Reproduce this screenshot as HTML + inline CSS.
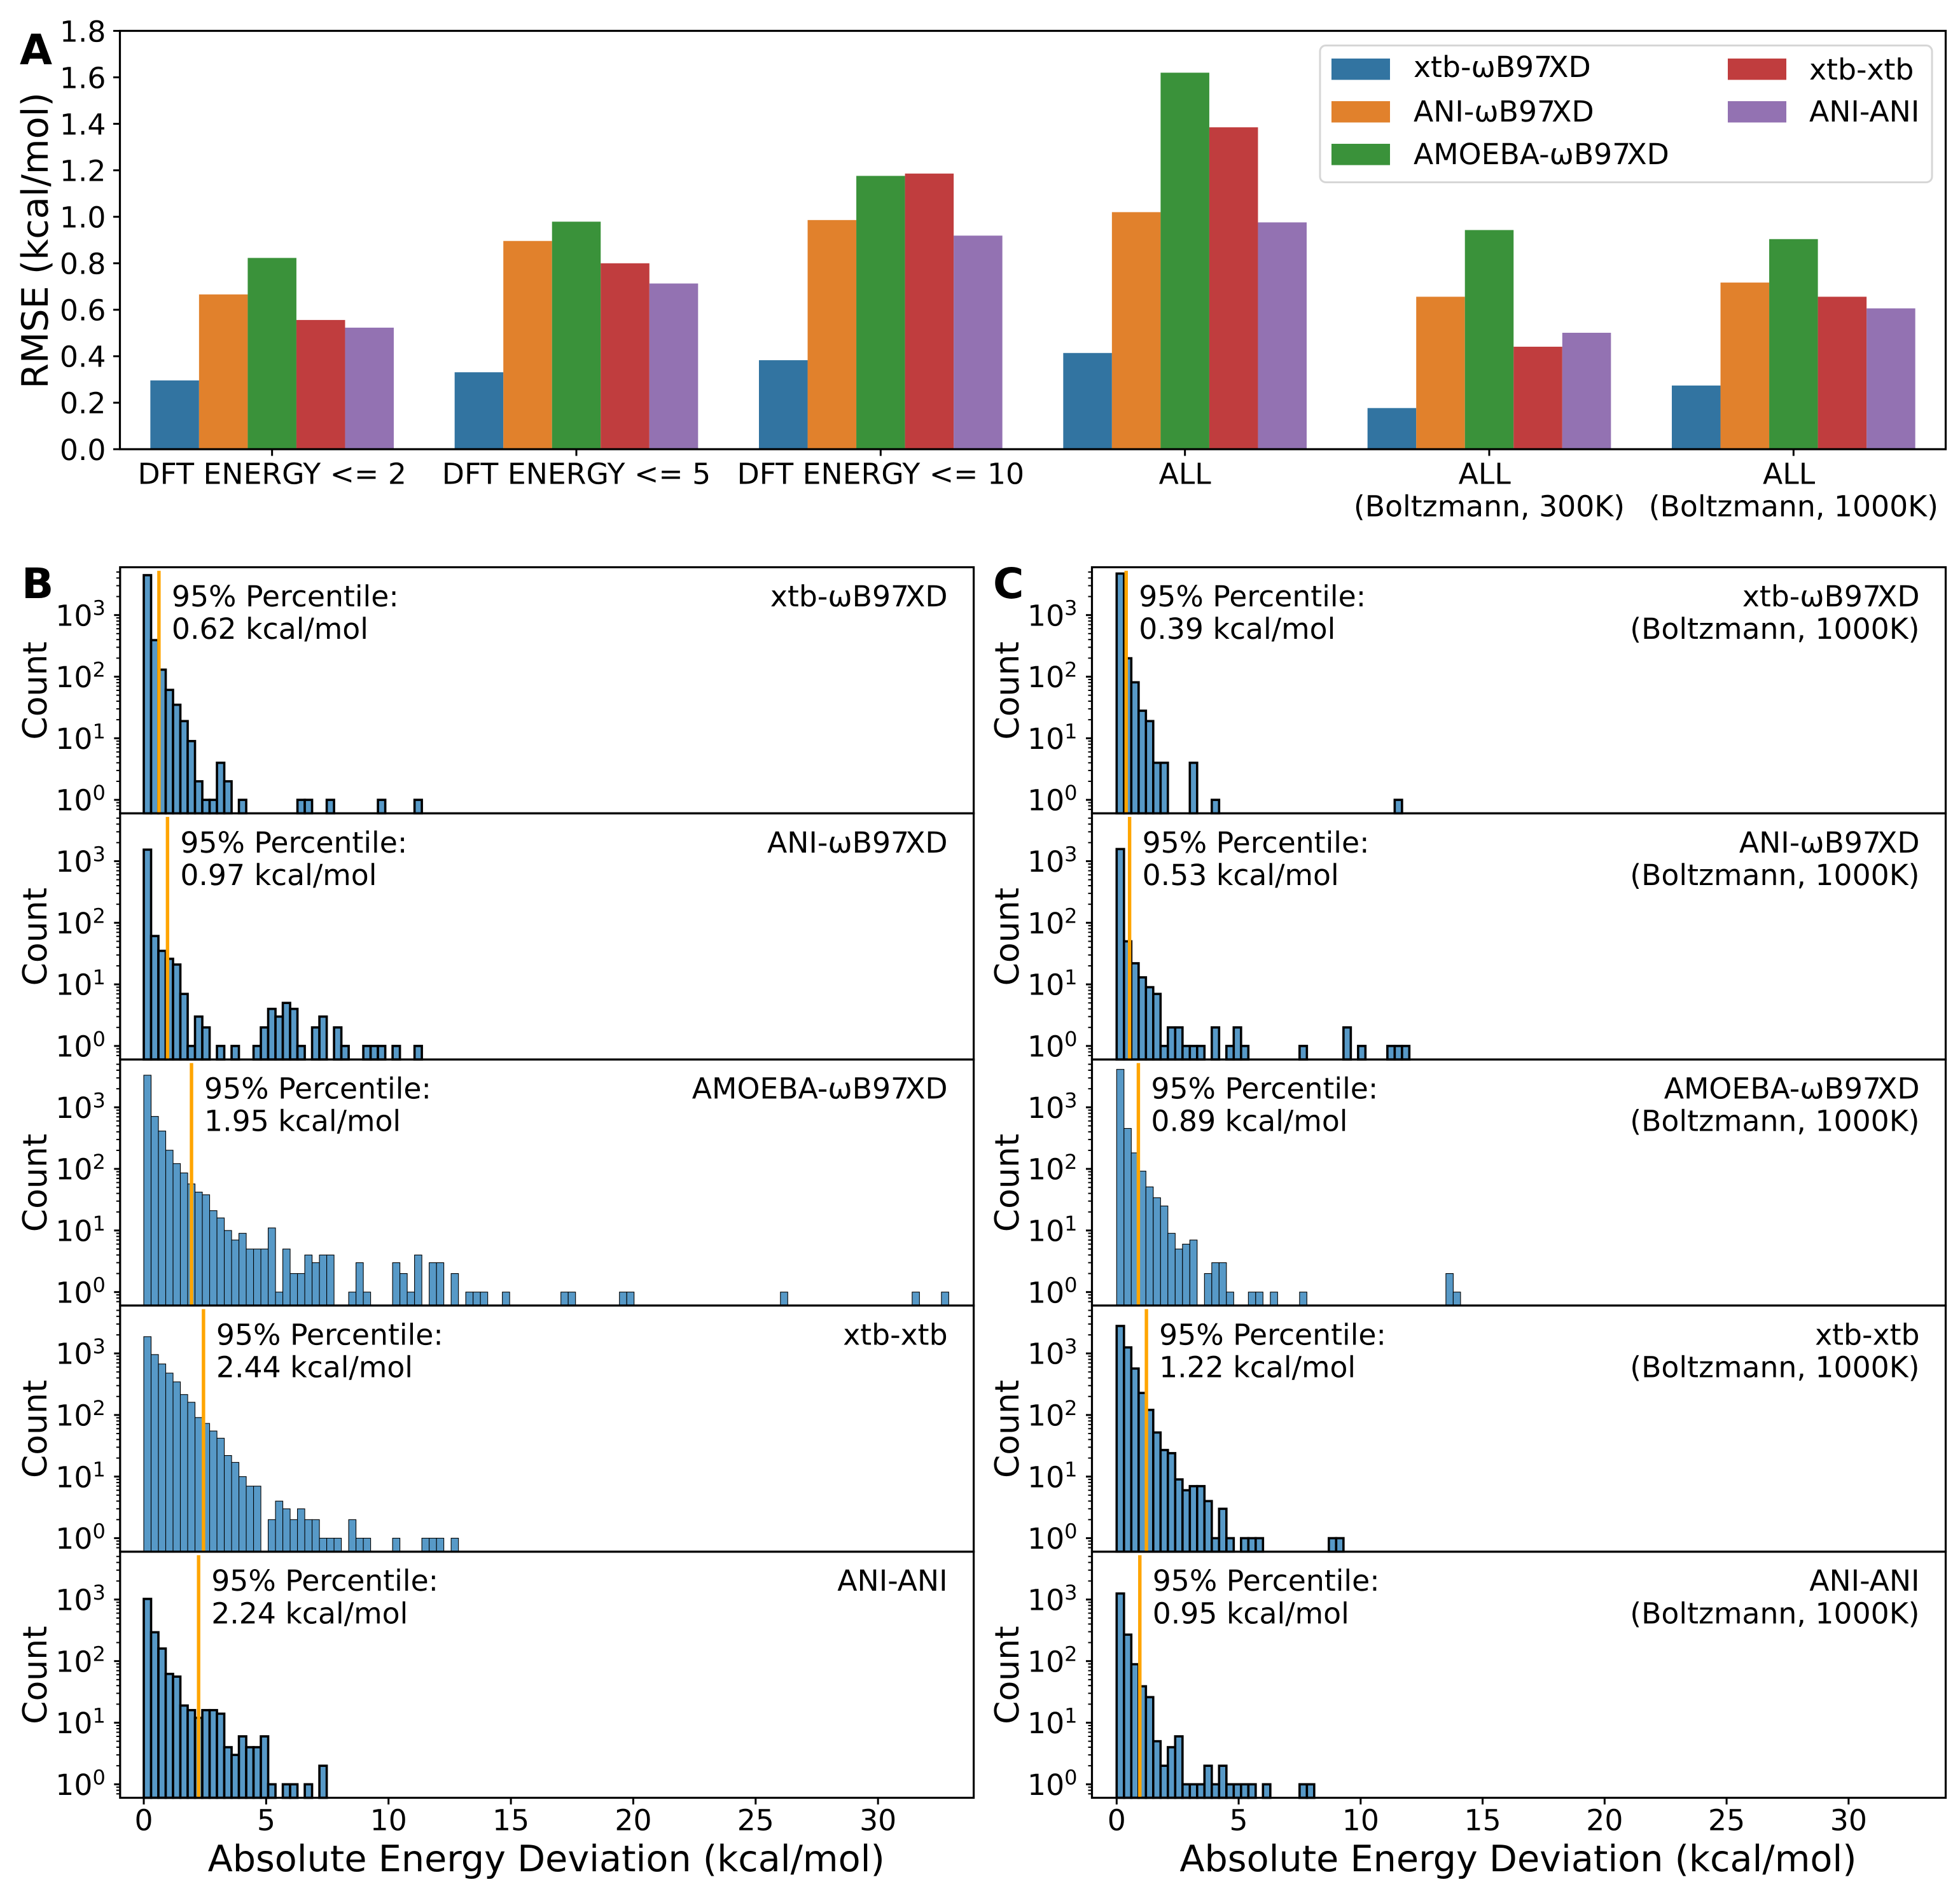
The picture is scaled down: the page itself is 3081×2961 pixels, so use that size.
<!DOCTYPE html>
<html lang="en">
<head>
<meta charset="utf-8">
<title>RMSE and absolute energy deviation chart</title>
<style>
  html, body { margin: 0; padding: 0; background: #fff; }
  svg { display: block; }
  text { font-family: "DejaVu Sans", "Liberation Sans", sans-serif; fill: #000; text-rendering: geometricPrecision; white-space: pre; }
</style>
</head>
<body>
<svg id="figure" xmlns="http://www.w3.org/2000/svg" width="3081" height="2961" viewBox="0 0 3081 2961"></svg>
<script>
// ---------- Panel A data ----------
const barCategories = [["DFT ENERGY <= 2"], ["DFT ENERGY <= 5"], ["DFT ENERGY <= 10"], ["ALL"], ["ALL ", "(Boltzmann, 300K)"], ["ALL ", "(Boltzmann, 1000K)"]];
const seriesNames = ["xtb-ωB97XD", "ANI-ωB97XD", "AMOEBA-ωB97XD", "xtb-xtb", "ANI-ANI"];
const seriesColors = ["#3274a1", "#e1812c", "#3a923a", "#c03d3e", "#9372b2"];
const rmseXtbWb97xd = [0.296, 0.331, 0.383, 0.414, 0.177, 0.274];
const rmseAniWb97xd = [0.666, 0.896, 0.986, 1.020, 0.656, 0.717];
const rmseAmoebaWb97xd = [0.823, 0.979, 1.176, 1.620, 0.943, 0.904];
const rmseXtbXtb = [0.556, 0.800, 1.186, 1.385, 0.441, 0.656];
const rmseAniAni = [0.523, 0.713, 0.919, 0.976, 0.501, 0.606];
const rmseTicks = [0, 0.2, 0.4, 0.6, 0.8, 1.0, 1.2, 1.4, 1.6, 1.8];

// ---------- Panels B and C data (counts per histogram bin; 0 = empty bin) ----------
const countsBXtbWb97xd = [4446,392,130,61,35,19,9,2,1,1,4,2,0,1,0,0,0,0,0,0,0,1,1,0,0,1,0,0,0,0,0,0,1,0,0,0,0,1];
const countsBAniWb97xd = [1540,61,35,26,21,7,1,3,2,0,1,0,1,0,0,1,2,4,3,5,4,1,0,2,3,0,2,1,0,0,1,1,1,0,1,0,0,1];
const countsBAmoebaWb97xd = [3320,711,412,201,122,86,57,42,38,21,16,10,7,9,5,5,5,11,1,5,2,2,4,3,4,4,0,0,1,3,1,0,0,0,3,2,1,4,0,3,3,0,2,0,1,1,1,0,0,1,0,0,0,0,0,0,0,1,1,0,0,0,0,0,0,1,1,0,0,0,0,0,0,0,0,0,0,0,0,0,0,0,0,0,0,0,0,1,0,0,0,0,0,0,0,0,0,0,0,0,0,0,0,0,0,1,0,0,0,1];
const countsBXtbXtb = [1870,958,674,479,345,215,161,91,73,55,42,22,17,10,7,7,0,2,4,3,2,3,2,2,1,1,1,0,2,1,1,0,0,0,1,0,0,0,1,1,1,0,1];
const countsBAniAni = [1023,294,160,62,56,19,16,12,16,16,14,4,3,6,4,4,6,1,0,1,1,0,1,0,2];
const countsCXtbWb97xd = [4723,199,81,28,19,4,4,0,0,0,4,0,0,1,0,0,0,0,0,0,0,0,0,0,0,0,0,0,0,0,0,0,0,0,0,0,0,0,1];
const countsCAniWb97xd = [1574,50,22,13,9,7,1,2,2,1,1,1,0,2,0,1,2,1,0,0,0,0,0,0,0,1,0,0,0,0,0,2,0,1,0,0,0,1,1,1];
const countsCAmoebaWb97xd = [4130,454,182,92,51,34,25,9,5,6,7,0,2,3,3,1,0,0,1,1,0,1,0,0,0,1,0,0,0,0,0,0,0,0,0,0,0,0,0,0,0,0,0,0,0,2,1];
const countsCXtbXtb = [2790,1252,568,228,121,52,27,24,9,6,7,7,4,1,3,1,0,1,1,1,0,0,0,0,0,0,0,0,0,1,1];
const countsCAniAni = [1253,269,89,39,26,5,2,4,6,1,1,1,2,1,2,1,1,1,1,0,1,0,0,0,0,1,1];
const percentilesB = [0.62, 0.97, 1.95, 2.44, 2.24];
const percentilesC = [0.39, 0.53, 0.89, 1.22, 0.95];
const methodLabels = ["xtb-ωB97XD", "ANI-ωB97XD", "AMOEBA-ωB97XD", "xtb-xtb", "ANI-ANI"];
const boltzmannNote = "(Boltzmann, 1000K)";
const deviationTicks = [0, 5, 10, 15, 20, 25, 30];
const countDecades = [0, 1, 2, 3];
const minorMultipliers = [2, 3, 4, 5, 6, 7, 8, 9];
const binWidthB = 0.299;
const binWidthC = 0.2999;

// ---------- Style and layout ----------
const NS = "http://www.w3.org/2000/svg";
const svg = document.getElementById("figure");
const TICK_FS = 45.7, LABEL_FS = 57.2, PANEL_FS = 66;
const SPINE = 3.2;
const barFill = "#5799c7";

function make(tag, parent, attrs) {
  const el = document.createElementNS(NS, tag);
  for (const k in attrs) el.setAttribute(k, attrs[k]);
  parent.appendChild(el);
  return el;
}
function makeText(parent, str, x, y, size, anchor, name, extra) {
  const el = make("text", parent, Object.assign({ x: x, y: y, "font-size": size, "text-anchor": anchor }, extra || {}));
  const kernAt = str.indexOf("7XD");
  if (kernAt >= 0) {
    // The reference pulls the "7X" pair tightly together.
    el.appendChild(document.createTextNode(str.slice(0, kernAt + 1)));
    const rest = make("tspan", el, { dx: -6 });
    rest.textContent = str.slice(kernAt + 1);
    
    
  } else {
    el.textContent = str;
  }
  
  
  return el;
}
function makeLine(parent, x1, y1, x2, y2, width, color, name) {
  const el = make("line", parent, { x1: x1, y1: y1, x2: x2, y2: y2, stroke: color, "stroke-width": width });
  
  
  return el;
}
function makeFrame(parent, x0, y0, x1, y1, name) {
  const el = make("rect", parent, { x: x0, y: y0, width: x1 - x0, height: y1 - y0, fill: "none", stroke: "#000", "stroke-width": SPINE });
  
  
  return el;
}

// ---------- Panel A ----------
function drawPanelA() {
  const g = make("g", svg, {});
  
  
  const L = 188.5, R = 3058.5, T = 48.5, B = 706;
  const allSeries = [rmseXtbWb97xd, rmseAniWb97xd, rmseAmoebaWb97xd, rmseXtbXtb, rmseAniAni];
  const yMax = 1.8;
  const xScale = v => L + (v + 0.5) * (R - L) / barCategories.length;
  const yScale = v => B - v * (B - T) / yMax;
  const slot = 0.8 / allSeries.length;

  allSeries.forEach((values, s) => {
    values.forEach((v, c) => {
      const x0 = xScale(c - 0.4 + s * slot);
      const x1 = xScale(c - 0.4 + (s + 1) * slot);
      const bar = make("rect", g, { x: x0, y: yScale(v), width: x1 - x0, height: B - yScale(v), fill: seriesColors[s] });
      
      
    });
  });

  makeFrame(g, L, T, R, B, 'panel-a-axes-frame');

  rmseTicks.forEach(t => {
    const y = yScale(t);
    makeLine(g, L - 10.5, y, L, y, 3, "#000", 'y-tick-' + t.toFixed(1));
    makeText(g, t.toFixed(1), L - 22, y + 16.8, TICK_FS, "end", 'y-tick-label-' + t.toFixed(1));
  });
  barCategories.forEach((lines, c) => {
    const x = xScale(c);
    makeLine(g, x, B, x, B + 10.5, 3, "#000", 'x-tick-' + c);
    lines.forEach((line, i) => {
      makeText(g, line, x, 760.5 + i * 51, TICK_FS, "middle", 'x-tick-label-' + c + '-line-' + i);
    });
  });

  makeText(g, "RMSE (kcal/mol)", 0, 0, 57.2, "middle", 'y-axis-title-rmse', { transform: "translate(75,378) rotate(-90)" });
  makeText(g, "A", 31, 101, PANEL_FS, "start", 'panel-label-a', { "font-weight": "bold" });

  // Legend
  const box = make("rect", g, { x: 2075, y: 71.5, width: 962, height: 215, rx: 9, ry: 9, fill: "#fff", stroke: "#d6d6d6", "stroke-width": 3 });
  
  
  const rows = [92, 159, 226, 92, 159];
  const baselines = [121, 191, 258, 125, 191];
  seriesNames.forEach((name, i) => {
    const px = i < 3 ? 2093 : 2716;
    const tx = i < 3 ? 2222 : 2844;
    const swatch = make("rect", g, { x: px, y: rows[i], width: 92, height: 33.5, fill: seriesColors[i] });
    
    
    makeText(g, name, tx, baselines[i], TICK_FS, "start", 'legend-label-' + name);
  });
}

// ---------- Panels B and C ----------
const PANEL_TOP = 891.5, PANEL_H = 386.8;
const DECADE = 96.8, ZERO_OFFSET = 21.2;

function drawHistColumn(cfg) {
  const col = make("g", svg, {});
  
  
  const L = cfg.left, R = cfg.right;
  const xScale = v => L + (v - cfg.xMin) * (R - L) / (cfg.xMax - cfg.xMin);

  cfg.counts.forEach((counts, p) => {
    const top = PANEL_TOP + p * PANEL_H;
    const bottom = top + PANEL_H;
    const yScale = v => bottom - ZERO_OFFSET - Math.log10(v) * DECADE;
    const g = make("g", col, {});
    
    
    const edge = cfg.thick[p] ? 3.6 : 1.1;

    counts.forEach((n, i) => {
      if (!n) return;
      const x0 = xScale(i * cfg.binWidth);
      const x1 = xScale((i + 1) * cfg.binWidth);
      const bar = make("rect", g, { x: x0, y: yScale(n), width: x1 - x0, height: bottom - yScale(n), fill: barFill, stroke: "#000", "stroke-width": edge });
      
      
    });

    const pct = cfg.percentiles[p];
    const px = xScale(pct);
    makeLine(g, px, top + 5.6, px, bottom, 5.4, "#ffa500", 'percentile-line');

    makeFrame(g, L, top, R, bottom, 'histogram-axes-frame');

    countDecades.forEach(d => {
      const y = yScale(Math.pow(10, d));
      makeLine(g, L - 9.5, y, L, y, 3, "#000", 'y-tick-decade-' + d);
      const label = makeText(g, "10", L - 23, y + 16.6, TICK_FS, "end", 'y-tick-label-decade-' + d);
      const sup = make("tspan", label, { dy: -16.6, "font-size": 32 });
      sup.textContent = String(d);
      
      
    });
    [-1, 0, 1, 2, 3].forEach(d => {
      minorMultipliers.forEach(m => {
        const v = m * Math.pow(10, d);
        const y = yScale(v);
        if (y < top || y > bottom) return;
        makeLine(g, L - 6, y, L, y, 2, "#000", 'y-minor-tick');
      });
    });

    makeText(g, "95% Percentile:", xScale(pct + 0.5) + 0.8, top + 61.5, TICK_FS, "start", 'percentile-text-title');
    makeText(g, pct.toFixed(2) + " kcal/mol", xScale(pct + 0.5) + 0.8, top + 112.6, TICK_FS, "start", 'percentile-text-value');
    makeText(g, methodLabels[p], R - 41, top + 61.5, TICK_FS, "end", 'method-label');
    if (cfg.note) makeText(g, cfg.note, R - 41, top + 112.6, TICK_FS, "end", 'boltzmann-note');

    makeText(g, "Count", 0, 0, 52, "middle", 'y-axis-title-count', { transform: "translate(" + cfg.countX + "," + (top + PANEL_H / 2 + 0.5) + ") rotate(-90)" });

    if (p === cfg.counts.length - 1) {
      deviationTicks.forEach(t => {
        const x = xScale(t);
        makeLine(g, x, bottom, x, bottom + 10.5, 3, "#000", 'x-tick-' + t);
        makeText(g, String(t), x, bottom + 51, TICK_FS, "middle", 'x-tick-label-' + t);
      });
      makeText(g, "Absolute Energy Deviation (kcal/mol)", (L + R) / 2 - 1, 2941, LABEL_FS, "middle", 'x-axis-title');
    }
  });
  makeText(col, cfg.letter, cfg.letterX, 940, PANEL_FS, "start", 'panel-label-' + cfg.letter.toLowerCase(), { "font-weight": "bold" });
}

drawPanelA();
drawHistColumn({
  name: 'panel-b-histograms', letter: "B", letterX: 34, countX: 73,
  left: 188.8, right: 1530.6, xMin: -0.967, xMax: 33.91, binWidth: binWidthB,
  counts: [countsBXtbWb97xd, countsBAniWb97xd, countsBAmoebaWb97xd, countsBXtbXtb, countsBAniAni],
  percentiles: percentilesB, thick: [true, true, false, false, true], note: null
});
drawHistColumn({
  name: 'panel-c-histograms', letter: "C", letterX: 1561, countX: 1601,
  left: 1716.5, right: 3058.5, xMin: -1.012, xMax: 33.98, binWidth: binWidthC,
  counts: [countsCXtbWb97xd, countsCAniWb97xd, countsCAmoebaWb97xd, countsCXtbXtb, countsCAniAni],
  percentiles: percentilesC, thick: [true, true, false, true, true], note: boltzmannNote
});
</script>
</body>
</html>
